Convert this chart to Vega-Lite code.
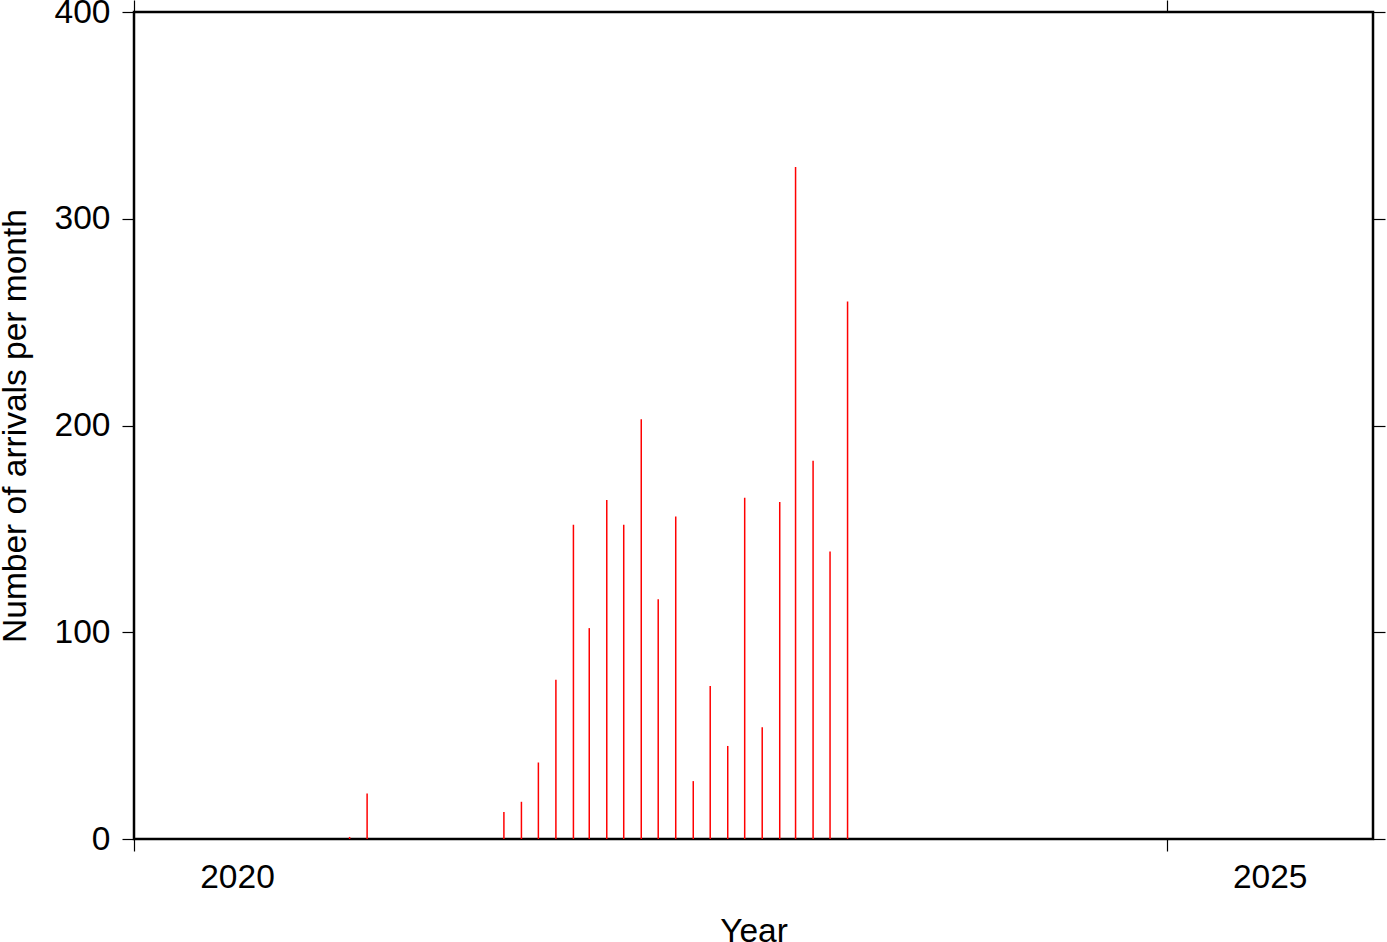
{
  "$schema": "https://vega.github.io/schema/vega-lite/v6.json",
  "width": 1239,
  "height": 827,
  "autosize": {"type": "none"},
  "padding": {"left": 134, "top": 12, "right": 14, "bottom": 103},
  "background": "white",
  "config": {
    "font": "Liberation Sans",
    "view": {"stroke": "black", "strokeWidth": 2.5},
    "axis": {
      "grid": false,
      "domain": false,
      "tickColor": "black",
      "tickWidth": 1.2,
      "tickSize": 12,
      "labelColor": "black",
      "labelFontSize": 33.5,
      "labelFlush": false,
      "labelBound": false,
      "labelOverlap": false,
      "titleColor": "black",
      "titleFontSize": 33.5,
      "titleFontWeight": "normal"
    }
  },
  "data": {
    "values": [
      {"month": "2021-01-15", "arrivals": 1},
      {"month": "2021-02-15", "arrivals": 22},
      {"month": "2021-10-15", "arrivals": 13},
      {"month": "2021-11-15", "arrivals": 18},
      {"month": "2021-12-15", "arrivals": 37},
      {"month": "2022-01-15", "arrivals": 77},
      {"month": "2022-02-15", "arrivals": 152},
      {"month": "2022-03-15", "arrivals": 102},
      {"month": "2022-04-15", "arrivals": 164},
      {"month": "2022-05-15", "arrivals": 152},
      {"month": "2022-06-15", "arrivals": 203},
      {"month": "2022-07-15", "arrivals": 116},
      {"month": "2022-08-15", "arrivals": 156},
      {"month": "2022-09-15", "arrivals": 28},
      {"month": "2022-10-15", "arrivals": 74},
      {"month": "2022-11-15", "arrivals": 45},
      {"month": "2022-12-15", "arrivals": 165},
      {"month": "2023-01-15", "arrivals": 54},
      {"month": "2023-02-15", "arrivals": 163},
      {"month": "2023-03-15", "arrivals": 325},
      {"month": "2023-04-15", "arrivals": 183},
      {"month": "2023-05-15", "arrivals": 139},
      {"month": "2023-06-15", "arrivals": 260}
    ]
  },
  "layer": [
    {
      "mark": {"type": "rule", "color": "#ff0000", "strokeWidth": 1.5, "xOffset": 0.8},
      "encoding": {
        "x": {
          "field": "month",
          "type": "temporal",
          "scale": {
            "type": "utc",
            "domain": [
              {"year": 2020, "month": 1, "date": 1, "utc": true},
              {"year": 2026, "month": 1, "date": 1, "utc": true}
            ]
          },
          "axis": {
            "orient": "bottom",
            "title": "Year",
            "values": [
              {"year": 2020, "month": 1, "date": 1, "utc": true},
              {"year": 2025, "month": 1, "date": 1, "utc": true}
            ],
            "format": "%Y",
            "formatType": "utc",
            "labelOffset": 103,
            "labelAlign": "center",
            "labelPadding": 10,
            "titleBaseline": "alphabetic",
            "titleY": 102
          }
        },
        "y": {
          "field": "arrivals",
          "type": "quantitative",
          "scale": {"domain": [0, 400], "nice": false},
          "axis": {
            "orient": "left",
            "title": "Number of arrivals per month",
            "values": [0, 100, 200, 300, 400],
            "labelPadding": 12,
            "titleAngle": -90,
            "titleBaseline": "alphabetic",
            "titleX": -109
          }
        },
        "y2": {"datum": 0}
      }
    },
    {
      "mark": {"type": "rule", "color": "#ff0000", "strokeWidth": 1.5, "strokeOpacity": 0},
      "encoding": {
        "x": {
          "field": "month",
          "type": "temporal",
          "scale": {
            "type": "utc",
            "domain": [
              {"year": 2020, "month": 1, "date": 1, "utc": true},
              {"year": 2026, "month": 1, "date": 1, "utc": true}
            ]
          },
          "axis": {
            "orient": "top",
            "title": null,
            "labels": false,
            "values": [
              {"year": 2020, "month": 1, "date": 1, "utc": true},
              {"year": 2025, "month": 1, "date": 1, "utc": true}
            ]
          }
        },
        "y": {
          "field": "arrivals",
          "type": "quantitative",
          "scale": {"domain": [0, 400], "nice": false},
          "axis": {
            "orient": "right",
            "title": null,
            "labels": false,
            "values": [0, 100, 200, 300, 400]
          }
        },
        "y2": {"datum": 0}
      }
    }
  ],
  "resolve": {"axis": {"x": "independent", "y": "independent"}}
}
